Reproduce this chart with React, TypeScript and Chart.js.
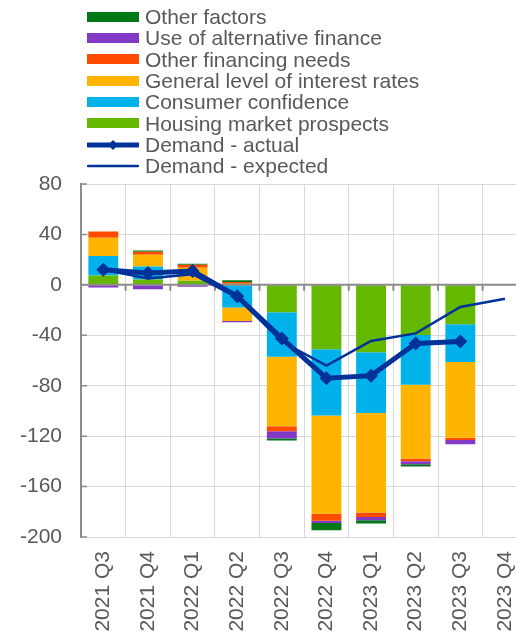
import { useEffect, useRef } from "react";
import { Chart, registerables } from "chart.js";

Chart.register(...registerables);

const categories = ["2021 Q3", "2021 Q4", "2022 Q1", "2022 Q2", "2022 Q3", "2022 Q4", "2023 Q1", "2023 Q2", "2023 Q3", "2023 Q4"];
const housingMarket = [7.4, 4.3, 3.2, 0.8, -21.8, -51, -53.4, -39.8, -31.3, null];
const consumerConfidence = [15.5, 10.3, 0, -17.9, -35.3, -52.7, -48.2, -39.5, -29.8, null];
const interestRates = [14.5, 9.2, 10.3, -10.8, -55, -77.9, -79, -58.5, -60.1, null];
const otherFinancing = [5.0, 2.4, 2.4, 1.5, -4, -5.5, -3.5, -2.1, -1.8, null];
const alternativeFinance = [-2.0, -3.4, -1.5, -1.0, -5.8, -1.8, -2.6, -2.4, -3.5, null];
const otherFactors = [0, 1.1, 0.8, 1.4, -1.6, -5.8, -2.6, -1.8, 0, null];
const demandActual = [12, 9.5, 11, -9, -42.5, -74, -72, -46.5, -45, null];
const demandExpected = [12, 5, 8.5, -10, -45, -64, -44.5, -38.5, -17.5, -11];
const yMin = -200;
const yMax = 80;
const yStep = 40;

const FONT = '"Liberation Sans", Arial, sans-serif';
const TEXT = "#595959";
const GRID = "#d9d9d9";
const AXIS = "#8c8c8c";
const DARK_BLUE = "#003299";

const legendItems = [
  { label: "Other factors", color: "#007816", kind: "box" },
  { label: "Use of alternative finance", color: "#8139C6", kind: "box" },
  { label: "Other financing needs", color: "#FF4B00", kind: "box" },
  { label: "General level of interest rates", color: "#FFB400", kind: "box" },
  { label: "Consumer confidence", color: "#00B1EA", kind: "box" },
  { label: "Housing market prospects", color: "#65B800", kind: "box" },
  { label: "Demand - actual", color: DARK_BLUE, kind: "thick" },
  { label: "Demand - expected", color: DARK_BLUE, kind: "thin" },
];

const EXPECTED_INDEX = 7;

const axisDecor = {
  id: "axisDecor",
  beforeDatasetDraw(chart: any, args: any) {
    if (args.index !== EXPECTED_INDEX) return;
    const { ctx, chartArea, scales } = chart;
    const y0 = scales.y.getPixelForValue(0);
    ctx.save();
    ctx.strokeStyle = AXIS;
    ctx.lineWidth = 2;
    ctx.beginPath();
    ctx.moveTo(chartArea.left, y0);
    ctx.lineTo(chartArea.right, y0);
    for (let i = 0; i <= categories.length; i++) {
      const px = scales.x.getPixelForValue(i - 0.5);
      ctx.moveTo(px, y0);
      ctx.lineTo(px, y0 + 6);
    }
    ctx.stroke();
    ctx.lineWidth = 1.5;
    ctx.beginPath();
    for (let v = yMin; v <= yMax; v += yStep) {
      const py = scales.y.getPixelForValue(v);
      ctx.moveTo(chartArea.left, py);
      ctx.lineTo(chartArea.left + 6, py);
    }
    ctx.stroke();
    ctx.restore();
  },
};

function LegendSwatch({ item }: { item: any }) {
  if (item.kind === "box") {
    return <div style={{ width: 52, height: 10, background: item.color, flex: "none" }} />;
  }
  const thick = item.kind === "thick";
  return (
    <svg width={52} height={14} style={{ flex: "none" }}>
      <line x1={1} y1={7} x2={51} y2={7} stroke={item.color} strokeWidth={thick ? 5 : 2.5} strokeLinecap="round" />
      {thick ? <polygon points="26,2 31,7 26,12 21,7" fill={item.color} /> : null}
    </svg>
  );
}

export default function App() {
  const canvasRef = useRef<HTMLCanvasElement | null>(null);

  useEffect(() => {
    if (!canvasRef.current) return;
    const barDs = (label: string, data: any[], color: string) => ({
      type: "bar" as const,
      label,
      data,
      backgroundColor: color,
      borderWidth: 0,
      stack: "bars",
      order: 3,
      barPercentage: 0.67,
      categoryPercentage: 1,
    });
    const chart = new Chart(canvasRef.current, {
      type: "bar",
      data: {
        labels: categories,
        datasets: [
          barDs("Housing market prospects", housingMarket, "#65B800"),
          barDs("Consumer confidence", consumerConfidence, "#00B1EA"),
          barDs("General level of interest rates", interestRates, "#FFB400"),
          barDs("Other financing needs", otherFinancing, "#FF4B00"),
          barDs("Use of alternative finance", alternativeFinance, "#8139C6"),
          barDs("Other factors", otherFactors, "#007816"),
          {
            type: "line" as const,
            label: "Demand - actual",
            data: demandActual,
            borderColor: DARK_BLUE,
            backgroundColor: DARK_BLUE,
            borderWidth: 5,
            pointStyle: "rectRot",
            pointRadius: 7,
            pointBorderWidth: 0,
            pointBackgroundColor: DARK_BLUE,
            tension: 0,
            stack: "actual",
            order: 1,
          } as any,
          {
            type: "line" as const,
            label: "Demand - expected",
            data: demandExpected,
            borderColor: DARK_BLUE,
            borderWidth: 2.5,
            pointRadius: 0,
            tension: 0,
            stack: "expected",
            order: 2,
          } as any,
        ],
      },
      options: {
        animation: false,
        responsive: false,
        maintainAspectRatio: false,
        layout: { padding: { top: 184, right: 17, left: 0, bottom: 0 } },
        plugins: {
          legend: { display: false },
          tooltip: { enabled: false },
        },
        scales: {
          x: {
            type: "category",
            stacked: true,
            offset: true,
            grid: { color: GRID, lineWidth: 1, offset: true, drawTicks: false },
            border: { display: false },
            ticks: {
              color: TEXT,
              font: { family: FONT, size: 21 },
              minRotation: 90,
              maxRotation: 90,
              padding: 14,
              autoSkip: false,
            },
            afterFit(scale: any) {
              scale.height = 95;
            },
          },
          y: {
            type: "linear",
            stacked: true,
            min: yMin,
            max: yMax,
            grid: { color: GRID, lineWidth: 1, drawTicks: false },
            border: { display: true, color: AXIS, width: 2 },
            ticks: {
              stepSize: yStep,
              color: TEXT,
              font: { family: FONT, size: 21 },
              padding: 19,
            },
            afterFit(scale: any) {
              scale.width = 81;
            },
          },
        },
      } as any,
      plugins: [axisDecor],
    });
    return () => chart.destroy();
  }, []);

  return (
    <div style={{ position: "fixed", left: 0, top: 0, width: 516, height: 632, overflow: "hidden", background: "#fff" }}>
      <canvas ref={canvasRef} width={545} height={632} style={{ position: "absolute", left: 0, top: 0, width: 545, height: 632 }} />
      {legendItems.map((item, i) => (
        <div
          key={item.label}
          style={{
            position: "absolute",
            left: 87,
            top: 6 + i * 21.33,
            height: 21.33,
            display: "flex",
            alignItems: "center",
            whiteSpace: "nowrap",
          }}
        >
          <LegendSwatch item={item} />
          <span style={{ marginLeft: 6, font: `21px ${FONT}`, color: TEXT, lineHeight: "21px" }}>{item.label}</span>
        </div>
      ))}
    </div>
  );
}
